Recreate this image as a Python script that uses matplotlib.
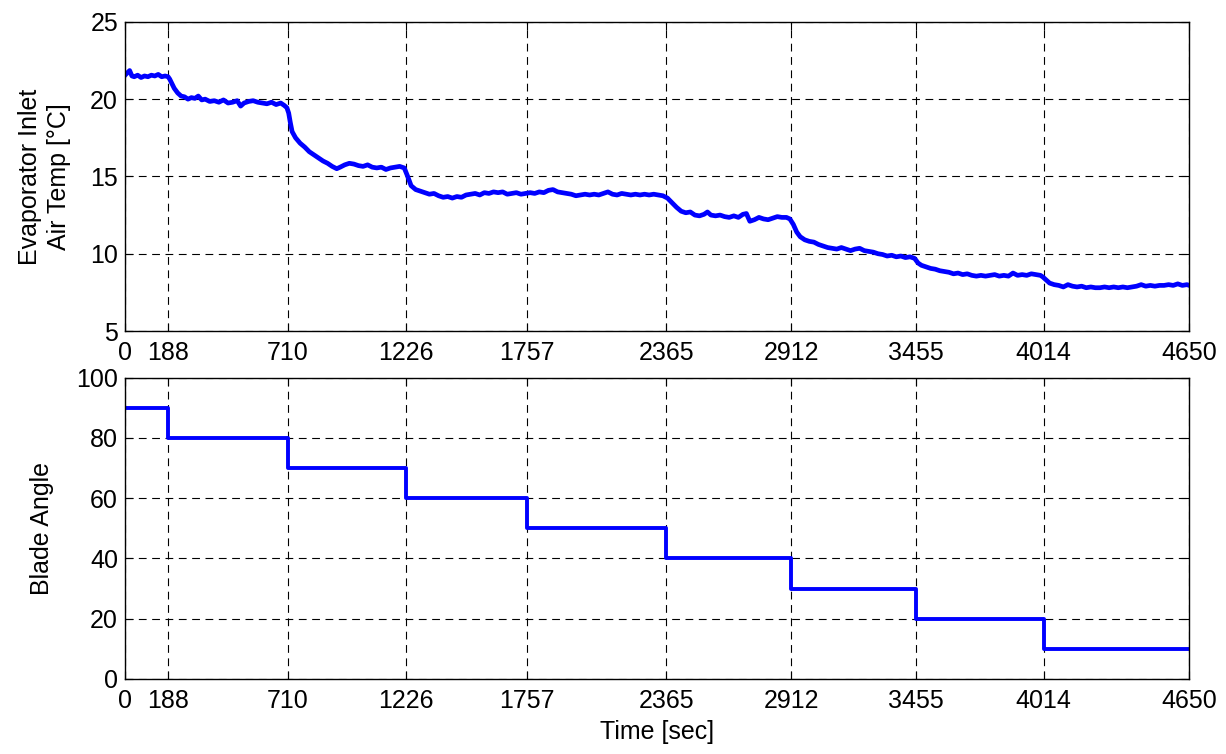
import matplotlib
matplotlib.use("Agg")
import matplotlib.pyplot as plt

plt.rcParams["font.family"] = ["Liberation Sans", "DejaVu Sans"]

# Blade angle schedule (step changes)
step_times = [0, 188, 710, 1226, 1757, 2365, 2912, 3455, 4014, 4650]
blade_angle = [90, 80, 70, 60, 50, 40, 30, 20, 10, 10]

x_ticks = [0, 188, 710, 1226, 1757, 2365, 2912, 3455, 4014, 4650]

# Evaporator inlet air temperature
time_sec = [
    0, 10, 20, 30, 40, 55, 70, 85, 100, 115, 130, 145, 160, 175, 188,
    195, 205, 215, 230, 245, 260, 275, 290, 305, 320, 335, 350, 370, 390,
    410, 430, 450, 470, 490, 505, 520, 540, 560, 580, 600, 620, 640, 660,
    680, 695, 707,
    715, 722, 730, 745, 765, 785, 805, 825, 845, 865, 885, 905, 925, 940,
    960, 980, 1000, 1020, 1040, 1060, 1080, 1100, 1120, 1140, 1160, 1180,
    1200, 1220,
    1235, 1250, 1270, 1290, 1310, 1330, 1350, 1370, 1390, 1410, 1430, 1450,
    1470, 1490, 1510, 1530, 1550, 1570, 1590, 1610, 1630, 1650, 1670, 1690,
    1710, 1730, 1750, 1770, 1790, 1810, 1830, 1850, 1870, 1890, 1910, 1930,
    1950, 1970, 1990, 2010, 2030, 2050, 2070, 2090, 2110, 2130, 2150, 2170,
    2190, 2210, 2230, 2250, 2270, 2290, 2310, 2330, 2350,
    2370, 2390, 2410, 2430, 2450, 2470, 2490, 2510, 2530, 2545, 2560, 2580,
    2600, 2620, 2640, 2660, 2680, 2700, 2715, 2730, 2750, 2770, 2790, 2810,
    2830, 2850, 2870, 2890, 2905,
    2920, 2935, 2950, 2970, 2990, 3010, 3030, 3050, 3070, 3090, 3110, 3130,
    3150, 3170, 3190, 3210, 3230, 3250, 3270, 3290, 3310, 3330, 3350, 3370,
    3390, 3410, 3430, 3450,
    3465, 3480, 3500, 3520, 3540, 3560, 3580, 3600, 3620, 3640, 3660, 3680,
    3700, 3720, 3740, 3760, 3780, 3800, 3820, 3840, 3860, 3880, 3900, 3920,
    3940, 3960, 3980, 4000, 4010,
    4025, 4040, 4060, 4080, 4100, 4120, 4140, 4160, 4180, 4200, 4220, 4240,
    4260, 4280, 4300, 4320, 4340, 4360, 4380, 4400, 4420, 4440, 4460, 4480,
    4500, 4520, 4540, 4560, 4580, 4600, 4620, 4640, 4650,
]
inlet_temp = [
    21.55, 21.7, 21.85, 21.5, 21.45, 21.55, 21.4, 21.5, 21.45, 21.55, 21.5, 21.6, 21.45, 21.5, 21.45,
    21.3, 21.0, 20.7, 20.4, 20.2, 20.15, 20.0, 20.1, 20.05, 20.2, 19.95, 20.0, 19.85, 19.9,
    19.8, 19.95, 19.75, 19.8, 19.9, 19.55, 19.75, 19.85, 19.9, 19.8, 19.75, 19.7, 19.8, 19.65,
    19.75, 19.6, 19.45,
    19.1, 18.5, 17.9, 17.5, 17.15, 16.9, 16.6, 16.4, 16.2, 16.0, 15.85, 15.65, 15.5, 15.6,
    15.75, 15.85, 15.8, 15.7, 15.65, 15.75, 15.6, 15.55, 15.6, 15.45, 15.55, 15.6,
    15.65, 15.55,
    15.0, 14.4, 14.15, 14.05, 13.95, 13.85, 13.9, 13.75, 13.65, 13.7, 13.6, 13.7,
    13.65, 13.8, 13.85, 13.9, 13.8, 13.95, 13.9, 14.0, 13.95, 14.0, 13.85, 13.9,
    13.95, 13.85, 13.9, 13.95, 13.9, 14.0, 13.95, 14.1, 14.15, 14.0, 13.95, 13.9,
    13.85, 13.75, 13.8, 13.85, 13.8, 13.85, 13.8, 13.9, 14.0, 13.85, 13.8, 13.9,
    13.85, 13.8, 13.85, 13.8, 13.85, 13.8, 13.85, 13.8, 13.75,
    13.6, 13.3, 13.0, 12.75, 12.65, 12.7, 12.5, 12.45, 12.55, 12.7, 12.5, 12.45,
    12.5, 12.4, 12.35, 12.45, 12.35, 12.55, 12.6, 12.1, 12.2, 12.35, 12.25, 12.2,
    12.3, 12.4, 12.35, 12.35, 12.25,
    11.9, 11.4, 11.1, 10.9, 10.8, 10.75, 10.6, 10.5, 10.4, 10.35, 10.3, 10.4,
    10.3, 10.2, 10.3, 10.35, 10.2, 10.15, 10.1, 10.0, 9.95, 9.85, 9.9, 9.8,
    9.85, 9.75, 9.8, 9.7,
    9.4, 9.25, 9.15, 9.05, 9.0, 8.9, 8.85, 8.8, 8.7, 8.75, 8.65, 8.7,
    8.6, 8.55, 8.6, 8.55, 8.6, 8.65, 8.55, 8.6, 8.55, 8.75, 8.6, 8.65,
    8.6, 8.7, 8.65, 8.6, 8.5,
    8.3, 8.1, 8.0, 7.95, 7.85, 8.0, 7.9, 7.85, 7.9, 7.8, 7.85, 7.8,
    7.8, 7.85, 7.8, 7.85, 7.8, 7.85, 7.8, 7.85, 7.9, 8.0, 7.9, 7.95,
    7.9, 7.95, 7.95, 8.0, 7.95, 8.05, 7.95, 8.0, 7.95,
]

_FONT = 18


def _style_axis(ax, y_ticks):
    ax.set_xlim(0, 4650)
    ax.set_xticks(x_ticks)
    ax.set_yticks(y_ticks)
    ax.set_ylim(y_ticks[0], y_ticks[-1])
    ax.grid(True, color="black", linestyle=(0, (7, 5)), linewidth=0.8)
    ax.tick_params(direction="in", length=6, top=True, right=True,
                   labelsize=_FONT)
    ax.tick_params(axis="x", pad=7)
    ax.tick_params(axis="y", pad=5)
    for sp in ax.spines.values():
        sp.set_linewidth(1.0)


fig = plt.figure(figsize=(12.26, 7.54), dpi=100)
ax_top = fig.add_axes([0.102, 0.561, 0.868, 0.410])
ax_bot = fig.add_axes([0.102, 0.0995, 0.868, 0.3995])

ax_top.plot(time_sec, inlet_temp, color="#0000ff", linewidth=3.4)
_style_axis(ax_top, [5, 10, 15, 20, 25])
ax_top.set_ylabel("Evaporator Inlet\nAir Temp [\u00b0C]", fontsize=_FONT,
                  linespacing=1.25, labelpad=14)

ax_bot.plot(step_times, blade_angle, color="#0000ff", linewidth=2.8,
            drawstyle="steps-post")
_style_axis(ax_bot, [0, 20, 40, 60, 80, 100])
ax_bot.set_ylabel("Blade Angle", fontsize=_FONT, labelpad=16)
ax_bot.set_xlabel("Time [sec]", fontsize=_FONT, labelpad=5)

fig.savefig("out.png", dpi=100)
